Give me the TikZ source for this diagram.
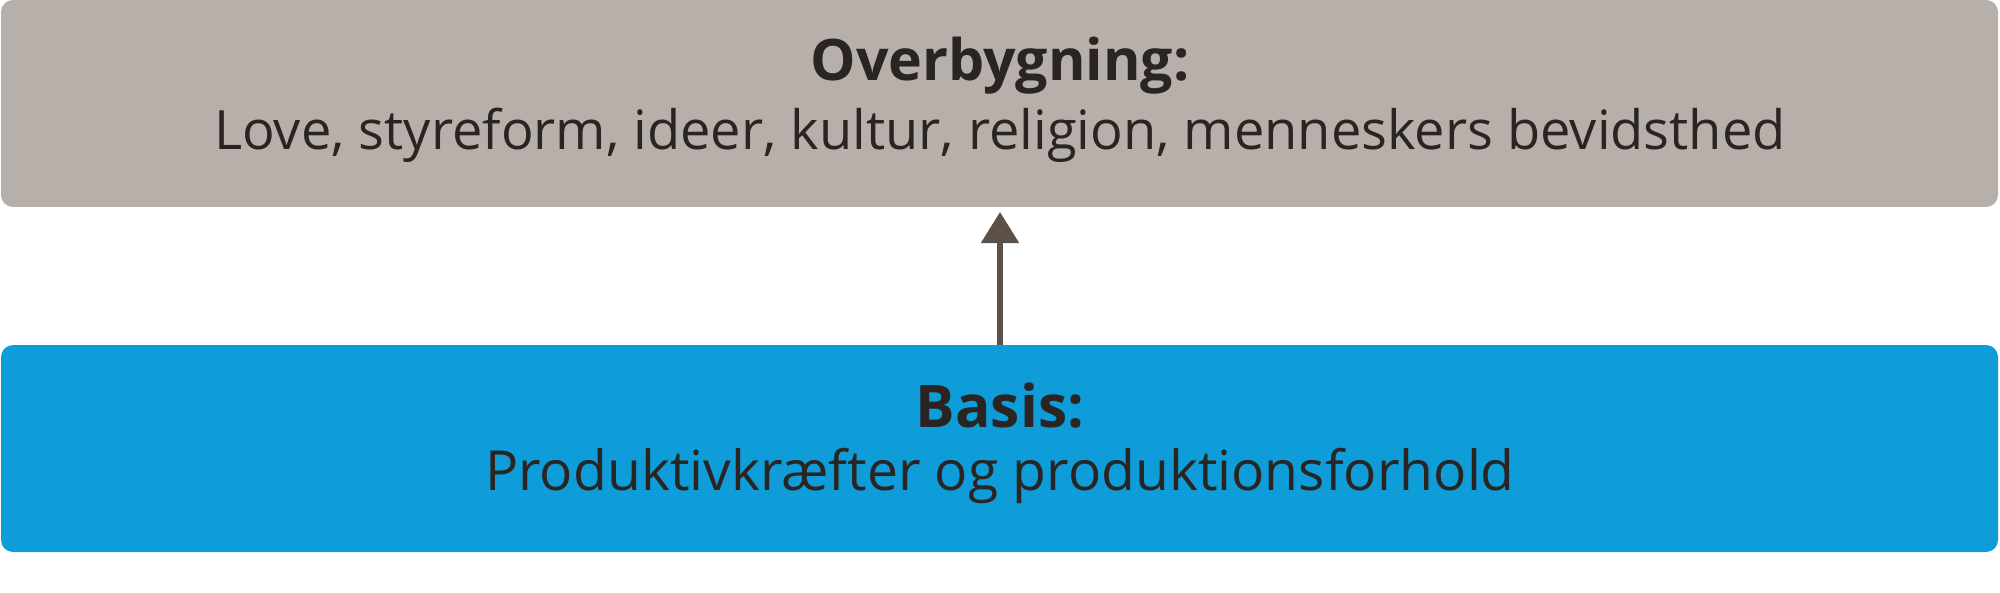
\documentclass[tikz,border=0pt]{standalone}
\usepackage{fontspec}
\setmainfont{Open Sans}
\usetikzlibrary{arrows.meta}
\definecolor{topgray}{HTML}{B7B0AA}
\definecolor{basisblue}{HTML}{0E9DD8}
\definecolor{arrowbrown}{HTML}{5B5148}
\definecolor{textdark}{HTML}{2A2522}
\tikzset{
  boxstyle/.style={rounded corners=6pt, draw=none},
  boxtext/.style={text=textdark, align=center, anchor=base},
  topbodyfont/.style={font=\fontsize{27.1pt}{32pt}\selectfont},
  basebodyfont/.style={font=\fontsize{27.6pt}{32pt}\selectfont},
  topheadfont/.style={font=\fontsize{28.6pt}{32pt}\selectfont\bfseries},
  baseheadfont/.style={font=\fontsize{29.4pt}{32pt}\selectfont\bfseries},
  uparrow/.style={draw=arrowbrown, line width=2.6pt, -{Triangle[length=15.5pt,width=18.5pt]}}
}
\begin{document}
\begin{tikzpicture}[x=0.5pt,y=-0.5pt]
\useasboundingbox (0,0) rectangle (2000,593);
\fill[topgray, boxstyle] (1,0) rectangle (1998,207);
\fill[basisblue, boxstyle] (1,345) rectangle (1998,552);
\node[boxtext, topheadfont] (tophead) at (1000,81) {Overbygning:};
\node[boxtext, topbodyfont] (topbody) at (1000,150) {Love, styreform, ideer, kultur, religion, menneskers bevidsthed};
\node[boxtext, baseheadfont] (basehead) at (1000,427) {Basis:};
\node[boxtext, basebodyfont] (basebody) at (1000,490) {Produktivkræfter og produktionsforhold};
\coordinate (arrowstart) at (1000,345);
\coordinate (arrowend) at (1000,212);
\draw[uparrow] (arrowstart) -- (arrowend);
\end{tikzpicture}
\end{document}
